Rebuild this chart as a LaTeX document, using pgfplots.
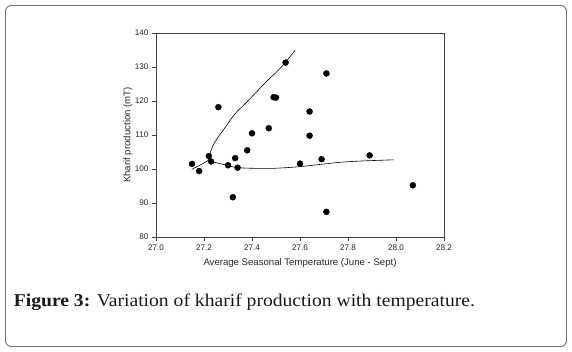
\documentclass[border=0pt]{standalone}
\usepackage{pgfplots}
\pgfplotsset{compat=1.18}
\usepackage{fontspec}
\setmainfont{Liberation Serif}
\newfontfamily\arial{Liberation Sans}
\begin{document}
\begin{tikzpicture}[x=1pt,y=-1pt]
\path (0,0) rectangle (572,352);
\draw[rounded corners=6pt, black!55, line width=0.9pt] (5.5,5.5) rectangle (566.5,346.5);
\begin{axis}[
  at={(156pt,-237pt)}, anchor=south west,
  width=288pt, height=204pt, scale only axis,
  xmin=27.0, xmax=28.2, ymin=80, ymax=140,
  xtick={27.0,27.2,...,28.2}, ytick={80,90,...,140},
  xticklabel style={/pgf/number format/.cd, fixed, fixed zerofill, precision=1},
  /pgf/number format/assume math mode=true,
  ticklabel style={font=\arial\fontsize{8.2}{10}\selectfont, text=black!85},
  tick align=outside, major tick length=4pt,
  xtick pos=bottom, ytick pos=left,
  axis line style={black!75, line width=0.7pt},
  tick style={black!75, line width=0.6pt},
  xlabel={Average Seasonal Temperature (June - Sept)},
  ylabel={Kharif production (mT)},
  label style={font=\arial\fontsize{9.6}{11}\selectfont, text=black!85},
  xlabel style={at={(axis description cs:0.5,0)}, anchor=north, yshift=-18pt},
  ylabel style={at={(axis description cs:0,0.5)}, anchor=south, yshift=20pt},
]
\addplot[only marks, mark=*, mark size=3pt, black] coordinates {
(27.15,101.5) (27.18,99.4) (27.22,103.8) (27.23,102.2) (27.26,118.2)
(27.30,101.1) (27.33,103.2) (27.34,100.4) (27.32,91.7) (27.38,105.5)
(27.40,110.5) (27.47,112.0) (27.49,121.1) (27.50,121.0) (27.60,101.6)
(27.64,116.9) (27.64,109.8) (27.69,102.9) (27.71,87.4) (27.89,104.0)
(28.07,95.2) (27.54,131.3) (27.71,128.1)
};
\addplot[black, line width=0.6pt, smooth] coordinates {
(27.149,99.9) (27.218,102.6) (27.225,104.6) (27.239,107.1) (27.26,109.5)
(27.29,112.4) (27.33,116.3) (27.38,119.8) (27.46,125.7) (27.52,129.8) (27.58,134.9)
};
\addplot[black, line width=0.6pt, smooth] coordinates {
(27.218,102.6) (27.23,102.2) (27.26,101.7) (27.30,101.0) (27.34,100.4)
(27.41,100.2) (27.49,100.2) (27.60,100.7) (27.79,102.1) (27.99,102.7)
};
\end{axis}
\node[anchor=base west, xscale=1.09, font=\fontsize{18}{21}\selectfont, text=black!90] at (10,306.5)
  {\textbf{Figure 3:} Variation of kharif production with temperature.};
\end{tikzpicture}
\end{document}
